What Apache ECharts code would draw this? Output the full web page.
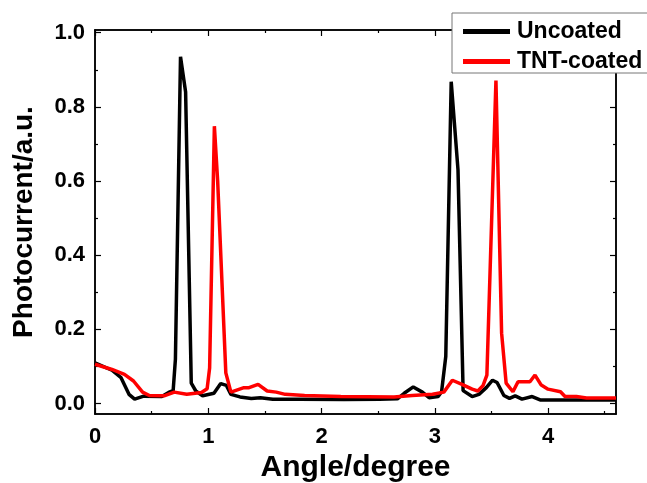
<!DOCTYPE html>
<html><head><meta charset="utf-8">
<script src="https://cdn.jsdelivr.net/npm/echarts@6/dist/echarts.min.js"></script>
<style>html,body{margin:0;padding:0;background:#fff}#c{width:647px;height:483px}</style>
</head><body><div id="c"></div>
<script>
const seriesNames = ['Uncoated', 'TNT-coated'];
const uncoatedX = [0, 0.15, 0.23, 0.30, 0.35, 0.43, 0.59, 0.65, 0.69, 0.71, 0.755, 0.80, 0.85, 0.89, 0.95, 1.05, 1.11, 1.16, 1.20, 1.28, 1.38, 1.46, 1.57, 1.8, 2.2, 2.51, 2.67, 2.73, 2.81, 2.89, 2.95, 3.03, 3.06, 3.097, 3.145, 3.205, 3.25, 3.33, 3.39, 3.455, 3.51, 3.55, 3.61, 3.66, 3.71, 3.77, 3.86, 3.93, 4.0, 4.3, 4.6];
const uncoatedY = [0.110, 0.090, 0.070, 0.025, 0.012, 0.020, 0.019, 0.030, 0.035, 0.120, 0.935, 0.840, 0.055, 0.034, 0.021, 0.028, 0.054, 0.049, 0.025, 0.018, 0.014, 0.016, 0.012, 0.012, 0.011, 0.012, 0.013, 0.028, 0.045, 0.031, 0.016, 0.019, 0.032, 0.127, 0.868, 0.630, 0.035, 0.019, 0.025, 0.043, 0.063, 0.057, 0.022, 0.014, 0.021, 0.012, 0.019, 0.010, 0.010, 0.010, 0.010];
const tntX = [0, 0.15, 0.26, 0.34, 0.42, 0.48, 0.61, 0.70, 0.81, 0.94, 0.99, 1.012, 1.054, 1.083, 1.155, 1.20, 1.315, 1.36, 1.44, 1.52, 1.60, 1.68, 1.85, 2.17, 2.64, 2.80, 2.98, 3.08, 3.155, 3.24, 3.33, 3.38, 3.425, 3.46, 3.54, 3.59, 3.63, 3.69, 3.735, 3.84, 3.885, 3.94, 4.0, 4.11, 4.15, 4.25, 4.34, 4.6];
const tntY = [0.106, 0.092, 0.079, 0.061, 0.031, 0.022, 0.021, 0.031, 0.025, 0.030, 0.040, 0.096, 0.748, 0.600, 0.083, 0.031, 0.043, 0.043, 0.052, 0.034, 0.031, 0.025, 0.022, 0.019, 0.018, 0.022, 0.025, 0.031, 0.063, 0.052, 0.039, 0.034, 0.048, 0.077, 0.871, 0.190, 0.055, 0.032, 0.059, 0.059, 0.077, 0.050, 0.039, 0.032, 0.019, 0.019, 0.015, 0.015];
const xMajorTicks = [0, 1, 2, 3, 4];
const xMinorTicks = [0.5, 1.5, 2.5, 3.5, 4.5];
const yMajorTicks = [0, 0.2, 0.4, 0.6, 0.8, 1.0];
const yMinorTicks = [0.1, 0.3, 0.5, 0.7, 0.9];

const FONT = '"Liberation Sans", Arial, sans-serif';
const X_MIN = 0, X_MAX = 4.6, Y_MIN = -0.028, Y_MAX = 1.0073;
const lineCol = '#000';

function xAxisDef(pos, major, ticks, withLabels) {
  return {
    type: 'value', position: pos, min: X_MIN, max: X_MAX, gridIndex: 0,
    axisLine: { show: true, onZero: false, lineStyle: { color: lineCol, width: 1.5 } },
    axisTick: { show: true, inside: true, length: major ? 6 : 3, customValues: ticks, lineStyle: { color: lineCol, width: 1.2 } },
    axisLabel: withLabels ? { show: true, customValues: xMajorTicks, formatter: v => String(Math.round(v)), color: '#000', fontSize: 22, fontWeight: 'bold', fontFamily: FONT, margin: 12 } : { show: false },
    splitLine: { show: false },
    name: withLabels ? 'Angle/degree' : '', nameLocation: 'middle', nameGap: 39,
    nameTextStyle: { fontSize: 30, fontWeight: 'bold', fontFamily: FONT, color: '#000' }
  };
}
function yAxisDef(pos, major, ticks, withLabels) {
  return {
    type: 'value', position: pos, min: Y_MIN, max: Y_MAX, gridIndex: 0,
    axisLine: { show: true, onZero: false, lineStyle: { color: lineCol, width: 1.5 } },
    axisTick: { show: true, inside: true, length: major ? 6 : 3, customValues: ticks, lineStyle: { color: lineCol, width: 1.2 } },
    axisLabel: withLabels ? { show: true, customValues: yMajorTicks, formatter: v => v.toFixed(1), color: '#000', fontSize: 22, fontWeight: 'bold', fontFamily: FONT, margin: 10 } : { show: false },
    splitLine: { show: false },
    name: withLabels ? 'Photocurrent/a.u.' : '', nameLocation: 'middle', nameGap: 57,
    nameTextStyle: { fontSize: 28, fontWeight: 'bold', fontFamily: FONT, color: '#000' }
  };
}

const chart = echarts.init(document.getElementById('c'), null, { renderer: 'canvas' });
chart.setOption({
  animation: false,
  backgroundColor: '#fff',
  grid: { left: 95, right: 31, top: 30, bottom: 69, outerBoundsMode: 'none', containLabel: false },
  legend: {
    data: seriesNames, orient: 'vertical', left: 452, top: 13,
    icon: 'rect', itemWidth: 47, itemHeight: 5, itemGap: 7,
    padding: [7, 9, 0, 11],
    borderColor: '#777', borderWidth: 1, backgroundColor: '#fff',
    textStyle: { fontSize: 23, lineHeight: 22, fontWeight: 'bold', fontFamily: FONT, color: '#000', padding: [0, 0, 0, 2] }
  },
  xAxis: [
    xAxisDef('bottom', true, xMajorTicks, true),
    xAxisDef('bottom', false, xMinorTicks, false),
    xAxisDef('top', true, xMajorTicks, false),
    xAxisDef('top', false, xMinorTicks, false)
  ],
  yAxis: [
    yAxisDef('left', true, yMajorTicks, true),
    yAxisDef('left', false, yMinorTicks, false),
    yAxisDef('right', true, yMajorTicks, false),
    yAxisDef('right', false, yMinorTicks, false)
  ],
  series: [
    { name: seriesNames[0], type: 'line', xAxisIndex: 0, yAxisIndex: 0, showSymbol: false, symbol: 'none',
      itemStyle: { color: '#000' }, lineStyle: { color: '#000', width: 3.5 },
      data: uncoatedX.map((x, i) => [x, uncoatedY[i]]) },
    { name: seriesNames[1], type: 'line', xAxisIndex: 0, yAxisIndex: 0, showSymbol: false, symbol: 'none',
      itemStyle: { color: '#ff0000' }, lineStyle: { color: '#ff0000', width: 3.5 },
      data: tntX.map((x, i) => [x, tntY[i]]) }
  ]
});
</script></body></html>
